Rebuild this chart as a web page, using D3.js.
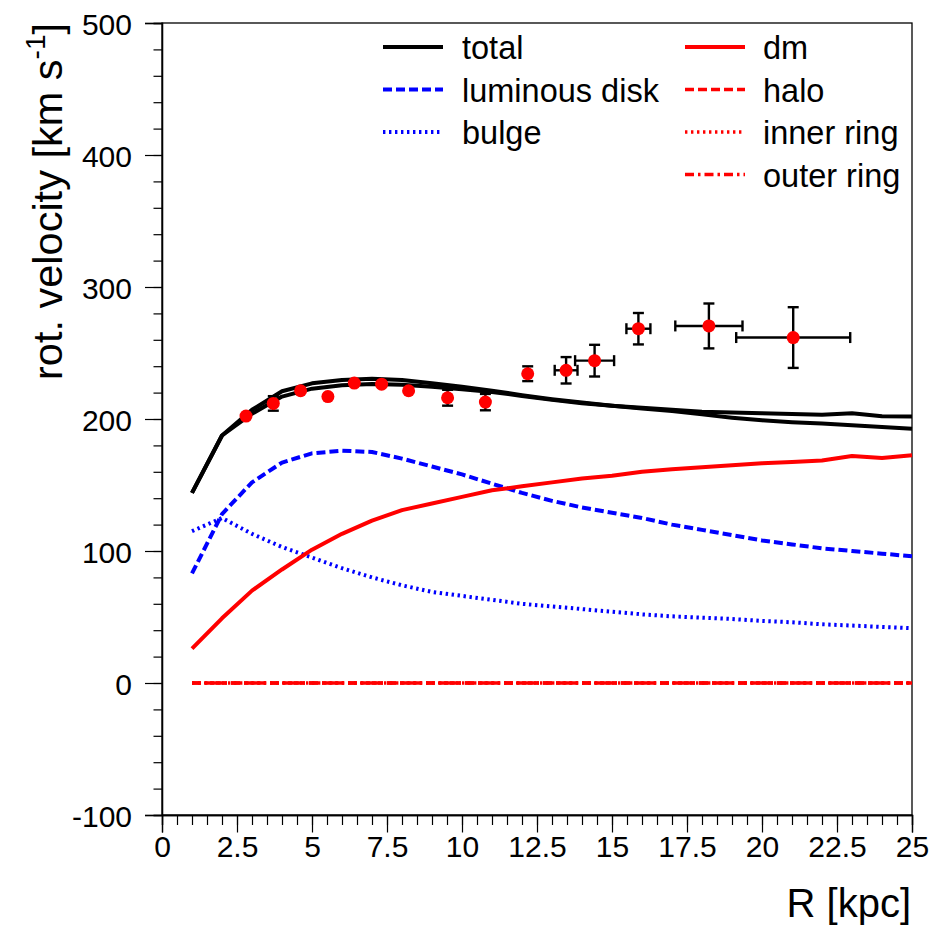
<!DOCTYPE html>
<html>
<head>
<meta charset="utf-8">
<script src="https://cdn.jsdelivr.net/npm/d3@7"></script>
<style>
  html, body { margin: 0; padding: 0; background: #fff; }
  svg { display: block; font-family: "Liberation Sans", Arial, Helvetica, sans-serif; }
</style>
</head>
<body>
<svg id="chart" width="936" height="927"></svg>
<script>
// ---------- data ----------
const radius = [1,2,3,4,5,6,7,8,9,10,11,12,13,14,15,16,17,18,19,20,21,22,23,24,25];
const total1 = [144,187.5,207,221,227,229.5,230.5,229.5,227,224.5,221.5,218,215,212.5,210,208,206,203.5,201,199,197.5,196.5,195.3,194,192.6];
const total2 = [144,187.5,204,217,223,225.5,226.5,226,224.5,222.5,220.5,217.5,214.5,212,210,208.5,207,205.5,205,204.4,203.7,203.2,204.4,202,201.9];
const luminousDisk = [83,128,152,167,174,176,175,170,164,158,151,144,138,133,129,125,120,116,112,108,105,102,100,98,96];
const bulge = [115,125,113,103,95,87,80,74,69,66,63,60,58,56,54,52,50.5,49.5,48.5,47,46,44.5,43.5,42.5,41.5];
const dm = [26,49,70,86,101,113,123,131,136,141,146,149,152,155,157,160,162,163.5,165,166.5,167.5,168.5,172,170.5,172.5];
const halo = [0,0,0,0,0,0,0,0,0,0,0,0,0,0,0,0,0,0,0,0,0,0,0,0,0];
const innerRing = [0,0,0,0,0,0,0,0,0,0,0,0,0,0,0,0,0,0,0,0,0,0,0,0,0];
const outerRing = [0,0,0,0,0,0,0,0,0,0,0,0,0,0,0,0,0,0,0,0,0,0,0,0,0];

const obsR    = [2.8,3.71,4.62,5.53,6.41,7.32,8.22,9.52,10.78,12.19,13.47,14.42,15.88,18.23,21.04];
const obsV    = [202.2,211.8,221.4,217,227.2,226.4,221.4,216.1,212.8,234.3,236.9,244.2,268.4,270.5,261.7];
const obsErrV = [2,5.5,2,2,2,2,2,6,6.2,5.6,10,12,11.9,17,23];
const obsErrR = [0,0,0,0,0,0,0,0,0,0,0.38,0.65,0.4,1.12,1.9];

const xMajorTicks = [0,2.5,5,7.5,10,12.5,15,17.5,20,22.5,25];
const yMajorTicks = [-100,0,100,200,300,400,500];

const legendLeft = ["total","luminous disk","bulge"];
const legendRight = ["dm","halo","inner ring","outer ring"];

// ---------- layout ----------
const svg = d3.select("#chart");
const X0 = 162, X1 = 912, YT = 23, YB = 815;
const x = d3.scaleLinear().domain([0,25]).range([X0, X1]);
const y = d3.scaleLinear().domain([-100,500]).range([YB, YT]);

const styles = {
  total1: {color:"#000", width:4, dash:null},
  total2: {color:"#000", width:4, dash:null},
  disk:   {color:"#0000ff", width:4, dash:"9,4"},
  bulge:  {color:"#0000ff", width:4, dash:"2.4,3.6"},
  dm:     {color:"#ff0000", width:4, dash:null},
  halo:   {color:"#ff0000", width:3.6, dash:"9,4"},
  inner:  {color:"#ff0000", width:3.6, dash:"2.4,3.6"},
  outer:  {color:"#ff0000", width:3.6, dash:"9,4,2.5,4"}
};

// ---------- frame ----------
svg.append("rect").attr("x", X0).attr("y", YT).attr("width", X1 - X0).attr("height", YB - YT)
  .attr("fill", "none").attr("stroke", "#000").attr("stroke-width", 1.3);

// ---------- axes ----------
const xMinor = d3.range(0, 25.001, 0.5);
const yMinor = d3.range(-100, 500.001, 20);

const gxMinor = svg.append("g").attr("transform", `translate(0,${YB})`)
  .call(d3.axisBottom(x).tickValues(xMinor).tickSize(10).tickFormat(""));
const gx = svg.append("g").attr("transform", `translate(0,${YB})`)
  .call(d3.axisBottom(x).tickValues(xMajorTicks).tickSize(17.5).tickPadding(3)
    .tickFormat(d => String(d)));
gx.selectAll("text").attr("font-size", 30).attr("fill", "#000").attr("font-family", "Liberation Sans, Arial, sans-serif");

const gyMinor = svg.append("g").attr("transform", `translate(${X0},0)`)
  .call(d3.axisLeft(y).tickValues(yMinor).tickSize(8.5).tickFormat(""));
const gy = svg.append("g").attr("transform", `translate(${X0},0)`)
  .call(d3.axisLeft(y).tickValues(yMajorTicks).tickSize(17).tickPadding(13)
    .tickFormat(d => String(d)));
gy.selectAll("text").attr("font-size", 30).attr("fill", "#000").attr("dy", "0.38em").attr("font-family", "Liberation Sans, Arial, sans-serif");

[gxMinor, gx, gyMinor, gy].forEach(g => {
  g.select(".domain").attr("stroke", "#000").attr("stroke-width", 1.3);
  g.selectAll(".tick line").attr("stroke", "#000").attr("stroke-width", 1.2);
});

// ---------- axis titles ----------
svg.append("text").attr("x", 911).attr("y", 917).attr("text-anchor", "end")
  .attr("font-size", 40).attr("fill", "#000").text("R [kpc]");

const yt = svg.append("text").attr("transform", "translate(62,23) rotate(-90)")
  .attr("text-anchor", "end").attr("font-size", 41.5).attr("fill", "#000");
yt.append("tspan").text("rot. velocity [km s");
yt.append("tspan").attr("font-size", 28).attr("dy", -17).text("-1");
yt.append("tspan").attr("dy", 17).text("]");

// ---------- curves ----------
const plot = svg.append("g");
const line = d3.line().x((d, i) => x(radius[i])).y(d => y(d));
function drawCurve(vals, st) {
  const p = plot.append("path").datum(vals).attr("d", line)
    .attr("fill", "none").attr("stroke", st.color).attr("stroke-width", st.width)
    .attr("stroke-linejoin", "round");
  if (st.dash) p.attr("stroke-dasharray", st.dash);
}
drawCurve(halo, styles.halo);
drawCurve(innerRing, styles.inner);
drawCurve(outerRing, styles.outer);
drawCurve(bulge, styles.bulge);
drawCurve(luminousDisk, styles.disk);
drawCurve(dm, styles.dm);
drawCurve(total1, styles.total1);
drawCurve(total2, styles.total2);

// ---------- data points ----------
const R_MARK = 6.5, CAP = 5.5, EW = 2.4;
const pts = svg.append("g");
obsR.forEach((r, i) => {
  const cx = x(r), cy = y(obsV[i]);
  const yTop = y(obsV[i] + obsErrV[i]), yBot = y(obsV[i] - obsErrV[i]);
  if (cy - yTop > R_MARK) {
    pts.append("line").attr("x1", cx).attr("x2", cx).attr("y1", yTop).attr("y2", yBot)
      .attr("stroke", "#000").attr("stroke-width", EW);
    [yTop, yBot].forEach(yy => pts.append("line").attr("x1", cx - CAP).attr("x2", cx + CAP)
      .attr("y1", yy).attr("y2", yy).attr("stroke", "#000").attr("stroke-width", EW));
  }
  const xL = x(r - obsErrR[i]), xR = x(r + obsErrR[i]);
  if (cx - xL > R_MARK) {
    pts.append("line").attr("x1", xL).attr("x2", xR).attr("y1", cy).attr("y2", cy)
      .attr("stroke", "#000").attr("stroke-width", EW);
    [xL, xR].forEach(xx => pts.append("line").attr("x1", xx).attr("x2", xx)
      .attr("y1", cy - CAP).attr("y2", cy + CAP).attr("stroke", "#000").attr("stroke-width", EW));
  }
});
pts.selectAll("circle").data(obsR).enter().append("circle")
  .attr("cx", d => x(d)).attr("cy", (d, i) => y(obsV[i])).attr("r", R_MARK)
  .attr("fill", "#ff0000");

// ---------- legend ----------
const leg = svg.append("g");
const rowY = [47, 89.5, 132, 174.5];
const leftStyles = [styles.total1, styles.disk, styles.bulge];
const rightStyles = [styles.dm, styles.halo, styles.inner, styles.outer];
function legendCol(labels, sts, lx0, lx1, tx) {
  labels.forEach((lab, i) => {
    const st = sts[i];
    const l = leg.append("line").attr("x1", lx0).attr("x2", lx1).attr("y1", rowY[i]).attr("y2", rowY[i])
      .attr("stroke", st.color).attr("stroke-width", st.width);
    if (st.dash) l.attr("stroke-dasharray", st.dash);
    leg.append("text").attr("x", tx).attr("y", rowY[i] + 12).attr("font-size", 32.5)
      .attr("fill", "#000").text(lab);
  });
}
legendCol(legendLeft, leftStyles, 383, 443, 462);
legendCol(legendRight, rightStyles, 685, 745, 763);
</script>
</body>
</html>
